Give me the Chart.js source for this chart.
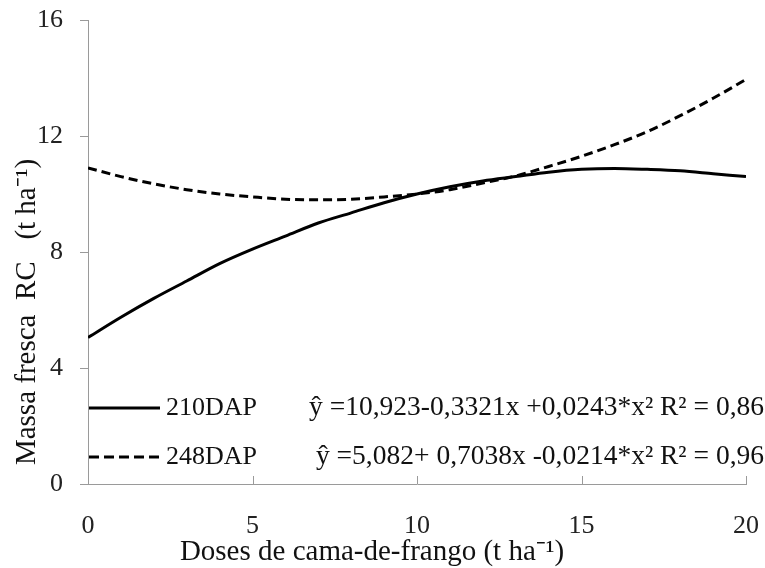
<!DOCTYPE html>
<html><head><meta charset="utf-8">
<script src="https://cdn.jsdelivr.net/npm/chart.js@4/dist/chart.umd.min.js"></script>
<style>html,body{margin:0;padding:0;background:#fff}#wrap{width:765px;height:568px}</style>
</head><body><div id="wrap"><canvas id="c" width="765" height="568"></canvas></div>
<script>
const doses = [0,1,2,3,4,5,6,7,8,9,10,11,12,13,14,15,16,17,18,19,20];
const dap210 = [5.05,5.75,6.4,7.0,7.6,8.1,8.55,9.0,9.35,9.7,10.0,10.25,10.45,10.6,10.75,10.85,10.88,10.85,10.8,10.7,10.6];
const dap248 = [10.9,10.6,10.35,10.15,10.0,9.9,9.82,9.8,9.82,9.9,10.0,10.15,10.38,10.62,10.95,11.3,11.7,12.15,12.7,13.3,13.95];
const seriesNames = ["210DAP","248DAP"];
const equations = ["ŷ =10,923-0,3321x +0,0243*x² R² = 0,86","ŷ =5,082+ 0,7038x -0,0214*x² R² = 0,96"];
const yTicks = [0,4,8,12,16];
const xTicks = [0,5,10,15,20];
const yTitle = "Massa fresca  RC   (t ha⁻¹)";
const xTitle = "Doses de cama-de-frango (t ha⁻¹)";
const FONT = "'Liberation Serif','Times New Roman',serif";

const extras = {
  id:'extras',
  afterDatasetsDraw(chart){
    const ctx = chart.ctx, ca = chart.chartArea, xs = chart.scales.x;
    ctx.save();
    // x tick marks (inside, upward)
    ctx.strokeStyle = '#9a9a9a'; ctx.lineWidth = 1;
    xTicks.forEach(v=>{
      const px = Math.round(xs.getPixelForValue(v))+0.5;
      ctx.beginPath(); ctx.moveTo(px, ca.bottom); ctx.lineTo(px, ca.bottom-8); ctx.stroke();
    });
    // legend
    const rows = [{y:408, dash:[]},{y:457, dash:[10,5]}];
    ctx.fillStyle = '#111'; ctx.textBaseline='middle';
    rows.forEach((r,i)=>{
      ctx.strokeStyle = '#000'; ctx.lineWidth = 3; ctx.setLineDash(r.dash);
      ctx.beginPath(); ctx.moveTo(ca.left+1, r.y); ctx.lineTo(ca.left+72, r.y); ctx.stroke();
      ctx.setLineDash([]);
      ctx.textAlign='left';
      ctx.font = '26px '+FONT;
      ctx.fillText(seriesNames[i], ca.left+78, r.y);
      ctx.textAlign='right';
      ctx.font = '27.5px '+FONT;
      ctx.fillText(equations[i], 764, r.y);
    });
    // axis titles
    ctx.font = '29px '+FONT; ctx.fillStyle = '#111'; ctx.textAlign='center';
    ctx.fillText(xTitle, 372, 552);
    ctx.translate(27, 312); ctx.rotate(-Math.PI/2);
    ctx.fillText(yTitle, 0, 0);
    ctx.restore();
  }
};

new Chart(document.getElementById('c'), {
  type:'line',
  data:{ datasets:[
    {label:seriesNames[0], data:doses.map((x,i)=>({x, y:dap210[i]})), borderColor:'#000', borderWidth:3, pointRadius:0, tension:0.4, cubicInterpolationMode:'monotone', fill:false},
    {label:seriesNames[1], data:doses.map((x,i)=>({x, y:dap248[i]})), borderColor:'#000', borderWidth:3, borderDash:[9,5], pointRadius:0, tension:0.4, cubicInterpolationMode:'monotone', fill:false}
  ]},
  options:{
    responsive:false, animation:false, devicePixelRatio:1,
    layout:{padding:{top:20,right:19,left:0,bottom:0}},
    plugins:{legend:{display:false}, tooltip:{enabled:false}},
    scales:{
      x:{type:'linear', min:0, max:20,
        afterBuildTicks(s){ s.ticks = xTicks.map(v=>({value:v})); },
        afterFit(s){ s.height = 84; s.paddingLeft = 0; s.paddingRight = 0; },
        grid:{display:false},
        border:{color:'#9a9a9a', width:1},
        ticks:{font:{family:FONT,size:26}, color:'#222', padding:19}
      },
      y:{min:0, max:16,
        afterBuildTicks(s){ s.ticks = yTicks.map(v=>({value:v})); },
        afterFit(s){ s.width = 88; s.paddingTop = 0; s.paddingBottom = 0; },
        grid:{drawOnChartArea:false, drawTicks:true, tickLength:8, color:'#9a9a9a'},
        border:{color:'#9a9a9a', width:1},
        ticks:{font:{family:FONT,size:26}, color:'#222', padding:17}
      }
    }
  },
  plugins:[extras]
});
</script></body></html>
